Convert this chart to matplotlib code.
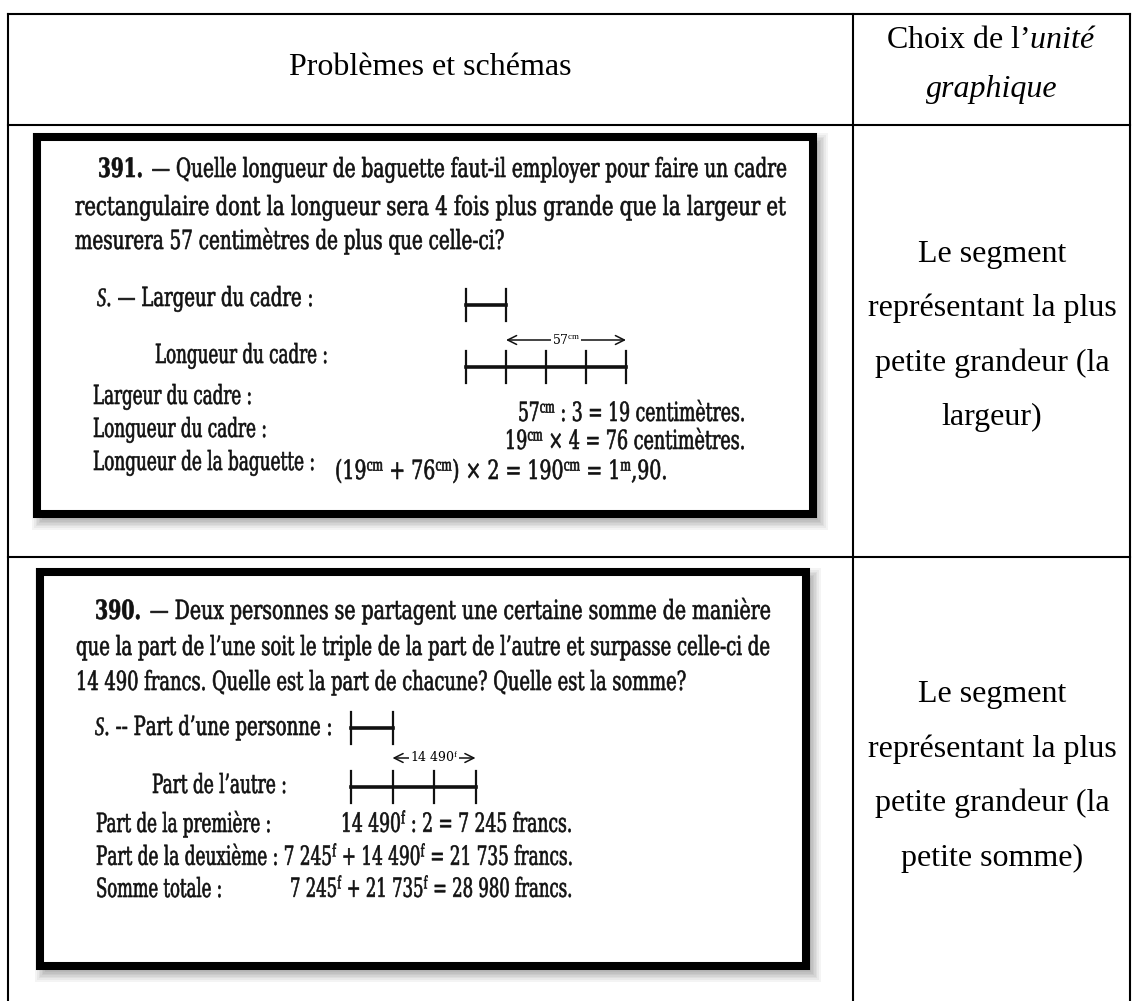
import matplotlib
matplotlib.use('Agg')
import matplotlib.pyplot as plt
from matplotlib.patches import Rectangle
from matplotlib.patheffects import AbstractPathEffect
from matplotlib.transforms import Affine2D

plt.rcParams['mathtext.fontset'] = 'custom'
plt.rcParams['mathtext.rm'] = 'Liberation Serif'
plt.rcParams['mathtext.it'] = 'Liberation Serif:italic'
plt.rcParams['mathtext.bf'] = 'DejaVu Serif:bold'

# --- table text ---
header_left = 'Problèmes et schémas'
header_right = ['Choix de l’$\\mathit{unité}$', 'graphique']
answer_1 = ['Le segment', 'représentant la plus', 'petite grandeur (la', 'largeur)']
answer_2 = ['Le segment', 'représentant la plus', 'petite grandeur (la', 'petite somme)']

# --- scanned problem 391 ---
box1_lines = [
    r'$\mathbf{391.}$ — Quelle longueur de baguette faut-il employer pour faire un cadre',
    'rectangulaire dont la longueur sera 4 fois plus grande que la largeur et',
    'mesurera 57 centimètres de plus que celle-ci?',
    r'$\mathit{S}$. — Largeur du cadre :',
    'Longueur du cadre :',
    'Largeur du cadre :',
    'Longueur du cadre :',
    'Longueur de la baguette :',
    r'57$^{\rm cm}$ : 3 = 19 centimètres.',
    r'19$^{\rm cm}$ × 4 = 76 centimètres.',
    r'(19$^{\rm cm}$ + 76$^{\rm cm}$) × 2 = 190$^{\rm cm}$ = 1$^{\rm m}$,90.',
]
box1_x = [98, 75, 75, 97, 155, 93, 93, 93, 518, 505, 335]
box1_y = [177, 215, 249, 306, 363, 404, 437, 470, 421, 449, 479]
box1_w = [688, 711, 429, 216, 173, 159, 174, 222, 227, 240, 332]

# segment schema: largeur = 1 part, longueur = 4 parts, difference = 3 parts = 57 cm
seg1_units = [1, 4]
seg1_diff = (1, 4)
seg1_label = r'57$^{\rm cm}$'

# --- scanned problem 390 ---
box2_lines = [
    r'$\mathbf{390.}$ — Deux personnes se partagent une certaine somme de manière',
    'que la part de l’une soit le triple de la part de l’autre et surpasse celle-ci de',
    '14 490 francs. Quelle est la part de chacune? Quelle est la somme?',
    r'$\mathit{S}$. -- Part d’une personne :',
    'Part de l’autre :',
    'Part de la première :',
    r'14 490$^{\rm f}$ : 2 = 7 245 francs.',
    r'Part de la deuxième : 7 245$^{\rm f}$ + 14 490$^{\rm f}$ = 21 735 francs.',
    'Somme totale :',
    r'7 245$^{\rm f}$ + 21 735$^{\rm f}$ = 28 980 francs.',
]
box2_x = [95, 76, 76, 95, 152, 96, 341, 96, 96, 290]
box2_y = [619, 655, 690, 735, 793, 832, 832, 865, 897, 897]
box2_w = [675, 694, 610, 237, 135, 175, 231, 476, 126, 282]

# petite part = 1 part, grande part = 3 parts, difference = 2 parts = 14 490 f
seg2_units = [1, 3]
seg2_diff = (1, 3)
seg2_label = r'14 490$^{\rm f}$'

SCAN_SIZE = 13      # font size the text is laid out at
SCAN_LOOK = 19      # apparent height of the scanned type


class Squeeze(AbstractPathEffect):
    # reshape and thicken the glyphs, like the condensed scan type
    def __init__(self, sx, sy, lw=0.45):
        super().__init__()
        self.sx = sx
        self.sy = sy
        self.lw = lw

    def draw_path(self, renderer, gc, tpath, affine, rgbFace=None):
        gc2 = renderer.new_gc()
        gc2.copy_properties(gc)
        gc2.set_linewidth(self.lw)
        gc2.set_foreground(rgbFace)
        renderer.draw_path(gc2, tpath, Affine2D().scale(self.sx, self.sy) + affine, rgbFace)
        gc2.restore()


fig = plt.figure(figsize=(11.32, 10.01), dpi=100)
ax = fig.add_axes([0, 0, 1, 1])
ax.set_xlim(0, 1132)
ax.set_ylim(1001, 0)
ax.axis('off')
renderer = fig.canvas.get_renderer()

# table grid
tlw = 1.5
for y in [14, 125, 557]:
    ax.plot([8, 1130], [y, y], color='black', lw=tlw, solid_capstyle='projecting')
for x in [8, 853, 1130]:
    ax.plot([x, x], [14, 1005], color='black', lw=tlw, solid_capstyle='projecting')

serif = 'Liberation Serif'
ax.text(430, 75, header_left, fontsize=23, family=serif, ha='center', va='baseline')
ax.text(992, 48, header_right[0], fontsize=23, family=serif, ha='center', va='baseline')
ax.text(992, 97, header_right[1], fontsize=23, family=serif, style='italic',
        ha='center', va='baseline')
for s, y in zip(answer_1, [262, 316, 371, 425]):
    ax.text(992, y, s, fontsize=23, family=serif, ha='center', va='baseline')
for s, y in zip(answer_2, [702, 757, 811, 866]):
    ax.text(992, y, s, fontsize=23, family=serif, ha='center', va='baseline')


def scan_box(x0, y0, x1, y1):
    # soft grey drop shadow, then the thick black frame
    for i in range(7):
        e = i * 1.6
        ax.add_patch(Rectangle((x0 + 5 - e, y0 + 6 - e), x1 - x0 + 2 * e, y1 - y0 + 2 * e,
                               facecolor='black', edgecolor='none', alpha=0.045, zorder=1))
    ax.add_patch(Rectangle((x0, y0), x1 - x0, y1 - y0, facecolor='white',
                           edgecolor='black', lw=5.8, joinstyle='miter', zorder=2))


def scan_lines(lines, xs, ys, ws):
    for s, x, y, w in zip(lines, xs, ys, ws):
        t = ax.text(x, y, s, fontsize=SCAN_SIZE, family='DejaVu Serif', ha='left',
                    va='baseline', color='#111111', zorder=3)
        nat = t.get_window_extent(renderer).width
        t.set_path_effects([Squeeze(w / nat, SCAN_LOOK / SCAN_SIZE)])


def segments(units, diff, label, x0, unit, ys, ya):
    for n, y in zip(units, ys):
        ax.plot([x0, x0 + n * unit], [y, y], color='#111111', lw=2.6, zorder=3)
        for k in range(n + 1):
            ax.plot([x0 + k * unit] * 2, [y - 16, y + 16], color='#111111', lw=1.6, zorder=3)
    xa, xb = x0 + diff[0] * unit, x0 + diff[1] * unit
    ax.annotate('', xy=(xb, ya), xytext=(xa, ya), zorder=3,
                arrowprops=dict(arrowstyle='<->', lw=1.1, color='#111111',
                                shrinkA=0, shrinkB=0, mutation_scale=16))
    ax.text((xa + xb) / 2, ya, label, fontsize=9, family='DejaVu Serif', ha='center',
            va='center', zorder=4,
            bbox=dict(facecolor='white', edgecolor='none', pad=0.5))


scan_box(37, 137, 813, 514)
scan_lines(box1_lines, box1_x, box1_y, box1_w)
segments(seg1_units, seg1_diff, seg1_label, 466, 40, [305, 367], 340)

scan_box(40, 572, 806, 966)
scan_lines(box2_lines, box2_x, box2_y, box2_w)
segments(seg2_units, seg2_diff, seg2_label, 351, 41.5, [728, 787], 758)

fig.savefig('out.png', dpi=100)
